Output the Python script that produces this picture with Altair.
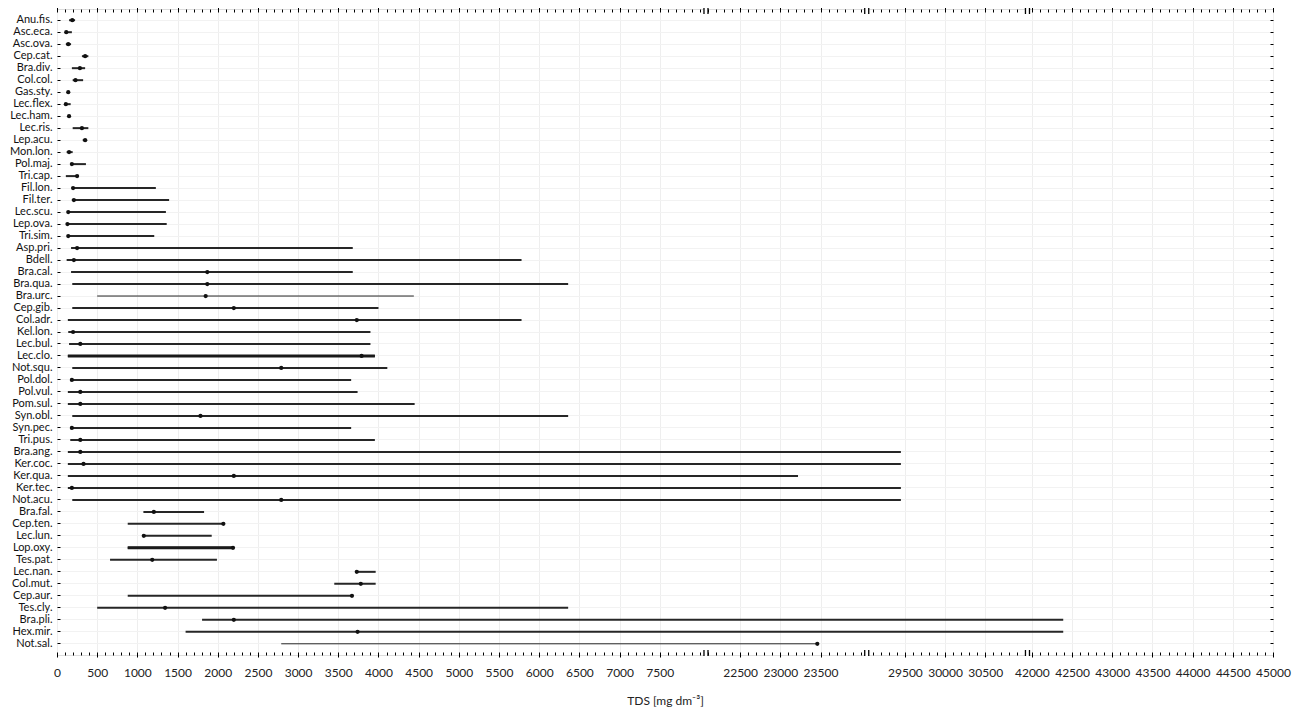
import math
import altair as alt
import pandas as pd

# ---------------- data ----------------
SPECIES = [
    "Anu.fis.", "Asc.eca.", "Asc.ova.", "Cep.cat.", "Bra.div.", "Col.col.", "Gas.sty.",
    "Lec.flex.", "Lec.ham.", "Lec.ris.", "Lep.acu.", "Mon.lon.", "Pol.maj.", "Tri.cap.",
    "Fil.lon.", "Fil.ter.", "Lec.scu.", "Lep.ova.", "Tri.sim.", "Asp.pri.", "Bdell.",
    "Bra.cal.", "Bra.qua.", "Bra.urc.", "Cep.gib.", "Col.adr.", "Kel.lon.", "Lec.bul.",
    "Lec.clo.", "Not.squ.", "Pol.dol.", "Pol.vul.", "Pom.sul.", "Syn.obl.", "Syn.pec.",
    "Tri.pus.", "Bra.ang.", "Ker.coc.", "Ker.qua.", "Ker.tec.", "Not.acu.", "Bra.fal.",
    "Cep.ten.", "Lec.lun.", "Lop.oxy.", "Tes.pat.", "Lec.nan.", "Col.mut.", "Cep.aur.",
    "Tes.cly.", "Bra.pli.", "Hex.mir.", "Not.sal.",
]
TDS_MIN = [
    150, 110, 110, 310, 185, 195, 130,
    100, 140, 195, 320, 120, 170, 110,
    185, 185, 135, 120, 135, 175, 120,
    175, 190, 500, 190, 135, 140, 150,
    135, 190, 165, 135, 135, 190, 175,
    165, 135, 135, 135, 135, 190, 1075,
    880, 1080, 880, 660, 3720, 3450, 880,
    500, 1805, 1600, 2790,
]
TDS_MAX = [
    225, 185, 175, 390, 350, 325, 150,
    170, 160, 390, 375, 195, 360, 270,
    1230, 1395, 1355, 1365, 1210, 3680, 5780,
    3680, 6360, 4440, 4000, 5780, 3900, 3900,
    3955, 4110, 3660, 3740, 4450, 6360, 3660,
    3955, 29450, 29450, 23220, 29450, 29450, 1830,
    2070, 1925, 2190, 1990, 3965, 3965, 3680,
    6360, 42390, 42390, 23460,
]
TDS_DOT = [
    190, 115, 140, 350, 285, 230, 140,
    110, 150, 310, 350, 150, 185, 250,
    200, 210, 140, 130, 140, 250, 210,
    1870, 1870, 1850, 2200, 3730, 200, 290,
    3790, 2790, 185, 290, 290, 1785, 185,
    290, 290, 330, 2200, 185, 2790, 1205,
    2070, 1080, 2190, 1185, 3730, 3780, 3670,
    1345, 2200, 3740, 23460,
]

# broken x axis: visible segments of the TDS scale
SEG_LO = [0, 22100, 29050, 41970]
SEG_HI = [8050, 24050, 31000, 45000]
GAP = 50
MAJOR = list(range(0, 8000, 500)) + [22500, 23000, 23500, 29500, 30000, 30500] + list(range(42000, 45001, 500))

THIN = ["Bra.urc.", "Not.sal."]
THICK = ["Lec.clo.", "Lop.oxy."]

# ---------------- scale-break helpers ----------------
OFFS = []
_o = 0
for lo, hi in zip(SEG_LO, SEG_HI):
    OFFS.append(_o)
    _o += hi - lo + GAP
TOTAL = _o - GAP


def fwd(f):
    expr = f"({f} - {SEG_LO[-1]} + {OFFS[-1]})"
    for lo, hi, off in reversed(list(zip(SEG_LO[:-1], SEG_HI[:-1], OFFS[:-1]))):
        expr = f"({f} <= {hi} ? {f} - {lo} + {off} : {expr})"
    return expr


def inv(f):
    expr = f"({f} - {OFFS[-1]} + {SEG_LO[-1]})"
    for lo, hi, off in reversed(list(zip(SEG_LO[:-1], SEG_HI[:-1], OFFS[:-1]))):
        expr = f"({f} <= {off + hi - lo + GAP / 2} ? {f} - {off} + {lo} : {expr})"
    return expr


TICKS_T = []
for lo, hi, off in zip(SEG_LO, SEG_HI, OFFS):
    v = int(math.ceil(lo / 100.0) * 100)
    while v <= hi:
        TICKS_T.append(v - lo + off)
        v += 100

MAJ_ARR = "[" + ",".join(str(m) for m in MAJOR) + "]"
INV = inv("datum.value")
IS_MAJOR = f"indexof({MAJ_ARR}, round({INV})) >= 0"
LABEL_EXPR = f"{IS_MAJOR} ? format(round({INV}), 'd') : ''"

W, H = 1216, 646
FONT = "Lato"

df = pd.DataFrame({"sp": SPECIES, "lo": TDS_MIN, "hi": TDS_MAX, "dot": TDS_DOT})
brk = pd.DataFrame({"a": SEG_HI[:-1], "b": SEG_LO[1:]})

xscale = alt.Scale(domain=[0, TOTAL], nice=False, zero=False)
yscale = alt.Scale(padding=0.87)

x_bottom = alt.Axis(
    orient="bottom", values=TICKS_T, labelExpr=LABEL_EXPR, domain=False, offset=-3,
    tickSize={"condition": {"test": IS_MAJOR, "value": 5}, "value": 3},
    tickColor="black", tickWidth=1, labelFont=FONT, labelFontSize=12, labelColor="#222",
    labelPadding=10, labelOverlap=False, labelFlush=False,
    grid=True, gridColor="#eeeeee", gridWidth=1,
    gridOpacity={"condition": {"test": IS_MAJOR, "value": 1}, "value": 0},
    titleFont=FONT, titleFontSize=12, titleFontWeight="normal", titleColor="#222",
    titlePadding=17,
)
x_top = alt.Axis(
    orient="top", values=TICKS_T, labels=False, domain=False, offset=-3,
    tickSize={"condition": {"test": IS_MAJOR, "value": 5}, "value": 3},
    tickColor="black", tickWidth=1, grid=False, title=None,
)
y_left = alt.Axis(
    orient="left", domain=False, offset=-3, tickSize=3, tickColor="black",
    labelFont=FONT, labelFontSize=11, labelColor="#111", labelPadding=5,
    grid=True, gridColor="#f2f2f2", title=None,
)
y_right = alt.Axis(
    orient="right", domain=False, offset=-3, tickSize=3, tickColor="black",
    labels=False, grid=False, title=None,
)

base = alt.Chart(df).transform_calculate(
    lo_t=fwd("datum.lo"), hi_t=fwd("datum.hi"), dot_t=fwd("datum.dot")
)

rules = base.mark_rule(color="#262626").encode(
    x=alt.X("lo_t:Q", scale=xscale, axis=x_bottom, title="TDS [mg dm⁻³]"),
    x2="hi_t:Q",
    y=alt.Y("sp:N", sort=SPECIES, scale=yscale, axis=y_left),
    strokeWidth=alt.condition(
        alt.FieldOneOfPredicate(field="sp", oneOf=THIN), alt.value(1),
        alt.value(2),
    ),
)
thick = base.transform_filter(
    alt.FieldOneOfPredicate(field="sp", oneOf=THICK)
).mark_rule(color="#1a1a1a", strokeWidth=3).encode(
    x=alt.X("lo_t:Q", scale=xscale, axis=None),
    x2="hi_t:Q",
    y=alt.Y("sp:N", sort=SPECIES, scale=yscale, axis=None),
)

dots = base.mark_circle(color="#111", size=18, opacity=1).encode(
    x=alt.X("dot_t:Q", scale=xscale, axis=x_top),
    y=alt.Y("sp:N", sort=SPECIES, scale=yscale, axis=y_right),
)

bbase = alt.Chart(brk).transform_calculate(a_t=fwd("datum.a"), b_t=fwd("datum.b"))
gap_top = bbase.mark_rect(color="white").encode(
    x=alt.X("a_t:Q", scale=xscale, axis=None), x2="b_t:Q",
    y=alt.value(-2), y2=alt.value(3),
)
gap_bot = bbase.mark_rect(color="white").encode(
    x=alt.X("a_t:Q", scale=xscale, axis=None), x2="b_t:Q",
    y=alt.value(H - 3), y2=alt.value(H + 2),
)
marks = []
for fld in ["a_t", "b_t"]:
    marks.append(bbase.mark_rule(color="black", strokeWidth=1.3).encode(
        x=alt.X(f"{fld}:Q", scale=xscale, axis=None), y=alt.value(-1), y2=alt.value(5)))
    marks.append(bbase.mark_rule(color="black", strokeWidth=1.3).encode(
        x=alt.X(f"{fld}:Q", scale=xscale, axis=None), y=alt.value(H - 5), y2=alt.value(H + 1)))

chart = (
    alt.layer(rules, thick, dots, gap_top, gap_bot, *marks)
    .resolve_axis(x="independent", y="independent")
    .properties(
        width=W, height=H,
        autosize=alt.AutoSizeParams(type="none"),
        padding={"left": 49, "top": 1, "right": 20, "bottom": 56},
    )
    .configure_view(stroke="black", strokeWidth=2)
    .configure(background="white")
)

chart.save("out.html", embed_options={"renderer": "svg", "actions": False})
